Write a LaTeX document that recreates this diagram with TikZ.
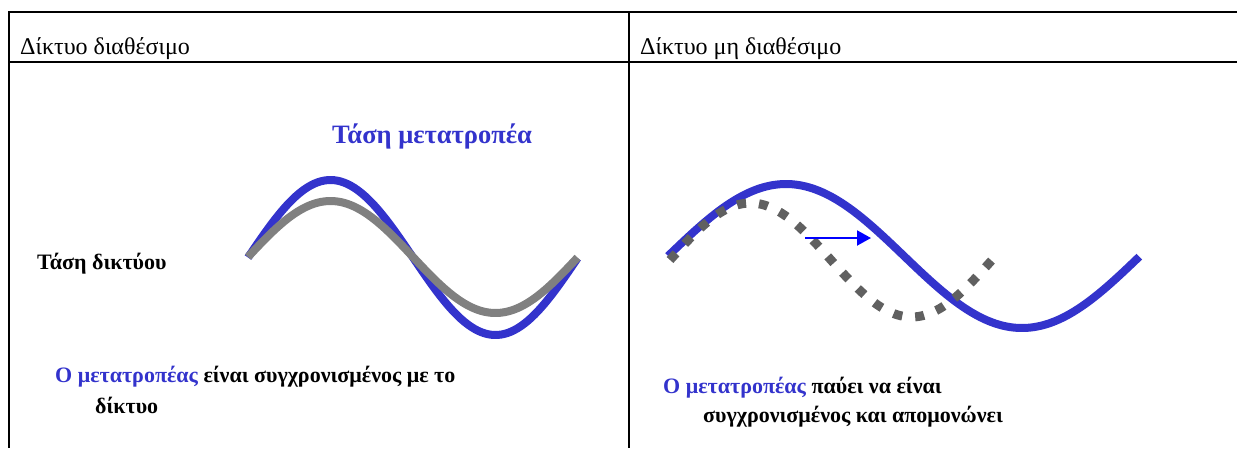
\documentclass[tikz,border=0pt]{standalone}
\usepackage{fontspec}
\setmainfont{Liberation Serif}
\usetikzlibrary{arrows.meta}
\definecolor{wblue}{HTML}{3333CC}
\definecolor{wgray}{HTML}{808080}
\definecolor{wdark}{HTML}{606060}
\definecolor{arrblue}{HTML}{0000FF}
\tikzset{
  rule/.style={line width=2pt, black},
  head/.style={anchor=base west, inner sep=0pt, font=\fontsize{24}{28}\selectfont},
  lbl/.style={anchor=base west, inner sep=0pt, font=\bfseries\fontsize{22}{26}\selectfont},
  biglbl/.style={anchor=base west, inner sep=0pt, font=\bfseries\fontsize{26.5}{30}\selectfont},
  bluewave/.style={line width=8pt, wblue},
  graywave/.style={line width=8pt, wgray},
  dotwave/.style={line width=9pt, wdark, dash pattern=on 9pt off 13pt},
  shiftarrow/.style={line width=2pt, arrblue, -{Triangle[length=14pt,width=15pt]}}
}
\begin{document}
\begin{tikzpicture}[x=1pt,y=-1pt]
\useasboundingbox (0,0) rectangle (1237,448);
% table rules
\draw[rule] (9,12) -- (1237,12);
\draw[rule] (9,62) -- (1237,62);
\draw[rule] (9,11) -- (9,448);
\draw[rule] (629,11) -- (629,448);
% headers
\node[head] (h1) at (20,54) {Δίκτυο διαθέσιμο};
\node[head] (h2) at (640,54) {Δίκτυο μη διαθέσιμο};
% left panel
\node[biglbl, text=wblue] (lconv) at (332,143) {Τάση μετατροπέα};
\node[lbl] (lgrid) at (37,269) {Τάση δικτύου};
\draw[bluewave] plot[domain=0:1, samples=100, smooth] ({248+330*\x},{257.5-77.5*sin(360*\x)});
\draw[graywave] plot[domain=0:1, samples=100, smooth] ({248+330*\x},{257-56*sin(360*\x)});
\node[lbl] (lnote1) at (55,382) {\textcolor{wblue}{Ο μετατροπέας} είναι συγχρονισμένος με το};
\node[lbl] (lnote2) at (95,413) {δίκτυο};
% right panel
\draw[bluewave] plot[domain=0:1, samples=100, smooth] ({668+472*\x},{256-72*sin(360*\x)});
\draw[dotwave] plot[domain=0:1, samples=100, smooth] ({670+322*\x},{260-57*sin(360*\x)});
\coordinate (as) at (805,238);
\coordinate (ae) at (871,238);
\draw[shiftarrow] (as) -- (ae);
\node[lbl] (rnote1) at (663,393) {\textcolor{wblue}{Ο μετατροπέας} παύει να είναι};
\node[lbl] (rnote2) at (703,422) {συγχρονισμένος και απομονώνει};
\end{tikzpicture}
\end{document}
